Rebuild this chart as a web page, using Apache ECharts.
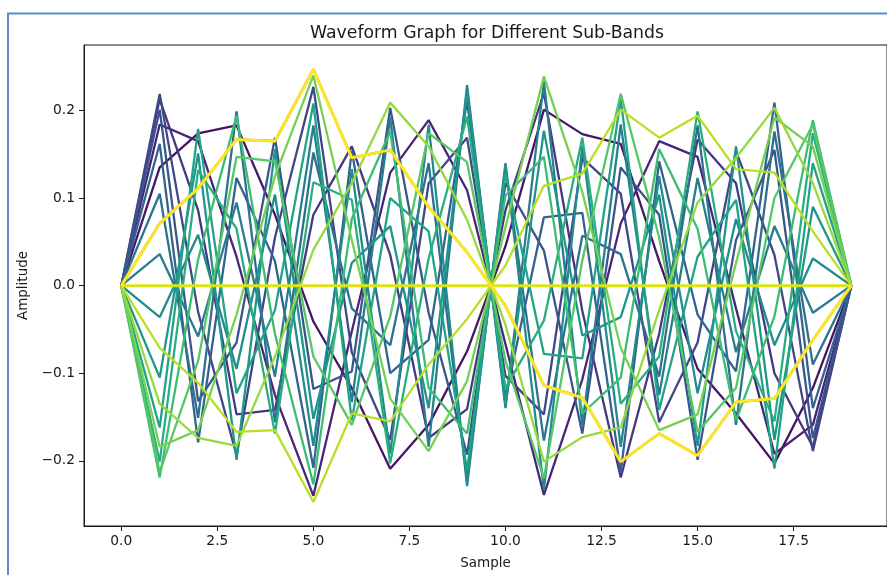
<!DOCTYPE html>
<html>
<head>
<meta charset="utf-8">
<style>
html, body { margin: 0; padding: 0; background: #fff; }
#chart { width: 887px; height: 575px; }
</style>
<script src="https://cdn.jsdelivr.net/npm/echarts@6/dist/echarts.min.js"></script>
</head>
<body>
<div id="chart"></div>
<script>
var samples = [0, 1, 2, 3, 4, 5, 6, 7, 8, 9, 10, 11, 12, 13, 14, 15, 16, 17, 18, 19];
var xTicks = [0, 2.5, 5, 7.5, 10, 12.5, 15, 17.5];
var yTicks = [-0.2, -0.1, 0, 0.1, 0.2];

// one array per sub-band
var band1 = [0, .071, .111, .167, .165, .247, .146, .155, .090, .038, -.023, -.114, -.128, -.201, -.169, -.194, -.133, -.129, -.062, 0];
var band2 = [0, .135, .174, .183, .081, -.041, -.117, -.209, -.159, -.075, .045, .201, .173, .162, .028, -.095, -.146, -.203, -.117, 0];
var band3 = [0, .184, .165, .033, -.125, -.240, -.052, .129, .189, .109, -.067, -.239, -.107, .071, .165, .147, -.026, -.192, -.159, 0];
var band4 = [0, .213, .086, -.147, -.142, .081, .159, .035, -.174, -.141, .086, .220, -.029, -.219, -.055, .167, .117, -.100, -.184, 0];
var band5 = [0, .219, -.030, -.194, .055, .227, -.076, -.176, .117, .169, -.103, -.147, .146, .105, -.156, -.065, .154, .035, -.189, 0];
var band6 = [0, .201, -.132, -.065, .169, -.118, -.098, .203, -.031, -.193, .117, .040, -.169, .135, .081, -.199, .052, .155, -.174, 0];
var band7 = [0, .162, -.179, .123, .028, -.208, .154, -.100, -.062, .211, -.128, .078, .083, -.213, .142, -.033, -.098, .209, -.140, 0];
var band8 = [0, .105, -.151, .199, -.156, .152, -.026, -.068, .140, -.223, .136, -.177, .057, .036, -.104, .183, -.159, .176, -.090, 0];
var band9 = [0, .036, -.058, .095, -.104, .183, -.133, .192, -.184, .229, -.140, .233, -.159, .184, -.125, .123, -.076, .068, -.031, 0];
var band10 = [0, -.036, .058, -.095, .104, -.183, .133, -.192, .184, -.229, .140, -.233, .159, -.184, .125, -.123, .076, -.068, .031, 0];
var band11 = [0, -.105, .151, -.199, .156, -.152, .026, .068, -.140, .223, -.136, .177, -.057, -.036, .104, -.183, .159, -.176, .090, 0];
var band12 = [0, -.162, .179, -.123, -.028, .208, -.154, .100, .062, -.211, .128, -.078, -.083, .213, -.142, .033, .098, -.209, .140, 0];
var band13 = [0, -.201, .132, .065, -.169, .118, .098, -.203, .031, .193, -.117, -.040, .169, -.135, -.081, .199, -.052, -.155, .174, 0];
var band14 = [0, -.219, .030, .194, -.055, -.227, .076, .176, -.117, -.169, .103, .147, -.146, -.105, .156, .065, -.154, -.035, .189, 0];
var band15 = [0, -.213, -.086, .147, .142, -.081, -.159, -.035, .174, .141, -.086, -.220, .029, .219, .055, -.167, -.117, .100, .184, 0];
var band16 = [0, -.184, -.165, -.033, .125, .240, .052, -.129, -.189, -.109, .067, .239, .107, -.071, -.165, -.147, .026, .192, .159, 0];
var band17 = [0, -.135, -.174, -.183, -.081, .041, .117, .209, .159, .075, -.045, -.201, -.173, -.162, -.028, .095, .146, .203, .117, 0];
var band18 = [0, -.071, -.111, -.167, -.165, -.247, -.146, -.155, -.090, -.038, .023, .114, .128, .201, .169, .194, .133, .129, .062, 0];
var band19 = [0, 0, 0, 0, 0, 0, 0, 0, 0, 0, 0, 0, 0, 0, 0, 0, 0, 0, 0, 0];
var band20 = [0, .071, .111, .167, .165, .247, .146, .155, .090, .038, -.023, -.114, -.128, -.201, -.169, -.194, -.133, -.129, -.062, 0];

var bands = [band1, band2, band3, band4, band5, band6, band7, band8, band9, band10,
	band11, band12, band13, band14, band15, band16, band17, band18, band19, band20];

var viridis = ['#440154', '#481467', '#482576', '#453781', '#404688', '#39558c', '#33638d', '#2d718e', '#287d8e', '#238a8d',
	'#1f968b', '#20a386', '#29af7f', '#3dbc74', '#56c667', '#75d054', '#95d840', '#bade28', '#dde318', '#fde725'];

var textFont = '"DejaVu Sans"';
var inkColor = '#1a1a1a';

var chart = echarts.init(document.getElementById('chart'));

var series = [];
for (var i = 0; i < bands.length; i++) {
	series.push({
		name: 'Band ' + (i + 1),
		type: 'line',
		showSymbol: false,
		silent: true,
		// last line sits exactly on top of the first, a bit wider hides the dark fringe
		lineStyle: { color: viridis[i], width: i >= 18 ? 3 : 2.3 },
		data: bands[i].map(function (v, j) { return [samples[j], v]; })
	});
}

chart.setOption({
	animation: false,
	backgroundColor: '#fff',
	title: {
		text: 'Waveform Graph for Different Sub-Bands',
		left: 482,
		top: 20,
		textAlign: 'center',
		textStyle: { fontFamily: textFont, fontSize: 17.3, fontWeight: 'normal', color: inkColor }
	},
	grid: {
		left: 84,
		top: 45,
		right: -2,
		bottom: 46,
		show: true,
		borderColor: inkColor,
		borderWidth: 1
	},
	xAxis: {
		type: 'value',
		min: -0.97,
		max: 19.93,
		name: 'Sample',
		nameLocation: 'middle',
		nameGap: 30,
		nameTextStyle: { fontFamily: textFont, fontSize: 13.5, color: inkColor },
		splitLine: { show: false },
		axisLine: { onZero: false, lineStyle: { color: inkColor } },
		axisTick: { length: 5, customValues: xTicks, lineStyle: { color: inkColor } },
		axisLabel: {
			customValues: xTicks,
			margin: 8,
			fontFamily: textFont,
			fontSize: 13.8,
			color: inkColor,
			formatter: function (v) { return v.toFixed(1); }
		}
	},
	yAxis: {
		type: 'value',
		min: -0.2745,
		max: 0.2748,
		name: 'Amplitude',
		nameLocation: 'middle',
		nameGap: 46,
		nameTextStyle: { fontFamily: textFont, fontSize: 13.5, color: inkColor },
		splitLine: { show: false },
		axisLine: { onZero: false, lineStyle: { color: inkColor } },
		axisTick: { length: 5, customValues: yTicks, lineStyle: { color: inkColor } },
		axisLabel: {
			customValues: yTicks,
			margin: 9,
			fontFamily: textFont,
			fontSize: 13.8,
			color: inkColor,
			formatter: function (v) { return v.toFixed(1).replace('-', '\u2212'); }
		}
	},
	graphic: [{
		type: 'rect',
		silent: true,
		shape: { x: 8, y: 13.5, width: 900, height: 600 },
		style: { fill: 'none', stroke: '#5b8bc9', lineWidth: 2 }
	}],
	series: series
});
</script>
</body>
</html>
